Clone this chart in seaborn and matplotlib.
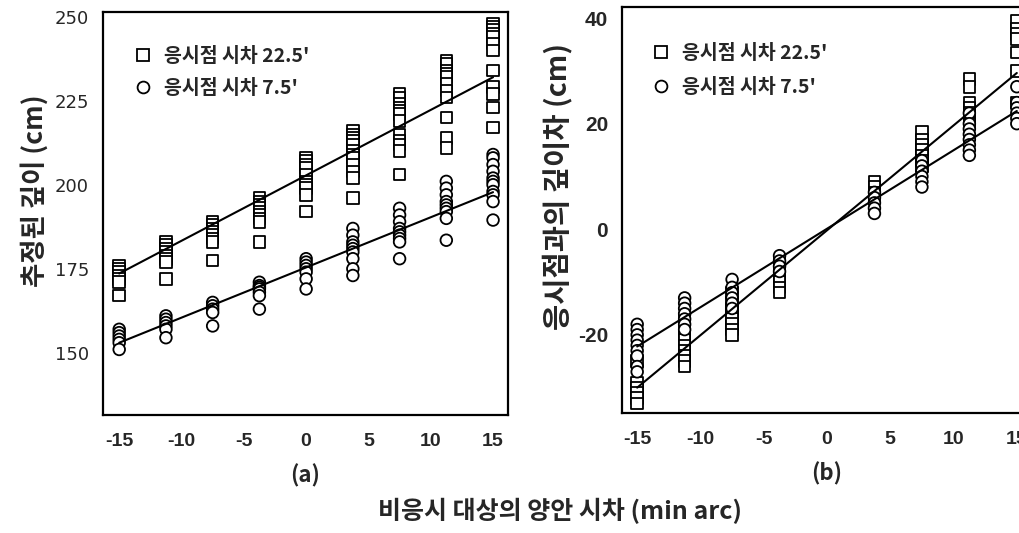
#!/usr/bin/env python3
"""Estimated depth vs. disparity of the non-fixated target (two fixation disparities)."""

import matplotlib
matplotlib.use("Agg")
import matplotlib.pyplot as plt
import pandas as pd
import seaborn as sns

KR = ["Noto Sans CJK KR", "DejaVu Sans"]
NARROW = ["Liberation Sans Narrow", "Liberation Sans", "DejaVu Sans"]

SERIES = ["응시점 시차 22.5'", "응시점 시차 7.5'"]
X_A = [-15, -11.25, -7.5, -3.75, 0, 3.75, 7.5, 11.25, 15]
X_B = [-15, -11.25, -7.5, -3.75, 3.75, 7.5, 11.25, 15]

# (a) estimated depth, one list per x level
A_SQ = [
    [176, 175, 174, 173, 172, 171, 167],
    [183, 182, 181, 180, 179, 178, 177, 172],
    [189, 188, 187, 186, 185, 184, 183, 177.5],
    [196, 195, 194, 193, 192, 191, 190, 189, 183],
    [208, 207, 206, 205, 203, 201, 200, 199, 197, 192],
    [216, 215, 214, 213, 212, 210, 209, 208, 206, 204, 202, 196],
    [227, 226, 224, 223, 222, 221, 219, 215, 213, 212, 210, 203],
    [237, 236, 234, 233, 232, 230, 228, 226, 220, 214, 211],
    [248, 247, 246, 245, 244, 242, 240, 234, 229, 227, 223, 217],
]
A_CI = [
    [157, 156, 155, 154, 153, 151],
    [161, 160, 159, 158, 157, 154.5],
    [165, 164, 163, 162, 158],
    [171, 170, 169.5, 169, 168, 167, 163],
    [178, 177, 176, 175, 174, 172, 169],
    [187, 185, 183, 182, 181, 180, 178, 175, 173],
    [193, 191, 189, 187, 186, 185, 184, 183, 178],
    [201, 199, 197, 195, 194, 193, 192, 190, 183.5],
    [209, 208, 206, 204, 202, 201, 200, 198, 197, 195, 189.5],
]

# (b) depth difference from the fixation point
B_SQ = [
    [-25, -29, -30, -31, -32, -33],
    [-17, -19, -20, -21, -22, -23, -24, -25, -26],
    [-12, -14, -15, -16, -17, -18, -19, -20],
    [-6, -7, -8, -9, -10, -11, -12],
    [9, 8, 7, 6],
    [18.5, 17, 16, 15, 14, 13, 12],
    [28.5, 27, 24, 23, 22, 21, 20],
    [39.5, 38, 37, 36, 33.5, 30, 24],
]
B_CI = [
    [-18, -19, -20, -21, -22, -23, -24, -26, -27],
    [-13, -14, -15, -16, -17, -18, -19],
    [-9.5, -11, -12, -13, -14, -15],
    [-5, -6, -7, -8],
    [7, 6, 5, 4, 3],
    [13, 12, 11, 10, 9, 8],
    [22, 20, 19, 18, 17, 16, 15, 14],
    [27, 24, 23, 22, 21, 20],
]

# fitted lines read at x = -15 and x = 15
FIT_X = [-15, 15]
A_FIT_SQ = [173.6, 232.0]
A_FIT_CI = [153.0, 197.8]
B_FIT_SQ = [-30.0, 29.6]
B_FIT_CI = [-22.2, 22.4]

A_YTICKS = [150, 175, 200, 225, 250]
B_YTICKS = [-20, 0, 20, 40]
X_TICKS = [-15, -10, -5, 0, 5, 10, 15]


def to_frame(xs, sq, ci):
    rows = []
    for name, cols in zip(SERIES, [sq, ci]):
        for x, vals in zip(xs, cols):
            rows += [{"x": x, "y": v, "series": name} for v in vals]
    return pd.DataFrame(rows)


def fit_frame(fit_sq, fit_ci):
    return pd.DataFrame({
        "x": FIT_X * 2,
        "y": fit_sq + fit_ci,
        "series": [SERIES[0]] * 2 + [SERIES[1]] * 2,
    })


def draw_panel(ax, df, fits, ylabel, letter, yticks, ylim, xlim, label_size, label_y,
               ytick_style, leg_anchor, leg_space):
    markers = {SERIES[0]: "s", SERIES[1]: "o"}
    sns.scatterplot(
        data=df, x="x", y="y", style="series", style_order=SERIES, markers=markers,
        s=70, facecolor="white", edgecolor="black", linewidth=1.3, ax=ax, legend=False, zorder=3,
    )
    sns.lineplot(data=fits, x="x", y="y", units="series", estimator=None, color="black",
                 lw=1.5, ax=ax, zorder=4, legend=False)
    ax.set_xlim(*xlim)
    ax.set_ylim(*ylim)
    ax.set_xticks(X_TICKS)
    ax.set_yticks(yticks)
    ax.set_xticklabels([str(t) for t in X_TICKS], fontfamily=NARROW, fontweight="bold", fontsize=14)
    ax.set_yticklabels([str(t) for t in yticks], **ytick_style)
    ax.set_xlabel(letter, fontfamily=KR, fontweight="bold", fontsize=16, labelpad=10)
    ax.set_ylabel(ylabel, fontfamily=KR, fontweight="bold", fontsize=label_size, labelpad=4)
    ax.yaxis.label.set_y(label_y)
    ax.grid(False)
    for side in ["left", "bottom", "top", "right"]:
        ax.spines[side].set_visible(True)
        ax.spines[side].set_color("black")
        ax.spines[side].set_linewidth(1.6)
    ax.tick_params(axis="both", direction="out", length=6, width=1.5, color="black", pad=4)
    ax.tick_params(axis="x", pad=7)

    handles = [
        plt.Line2D([], [], marker=markers[n], ls="", mfc="white", mec="black", mew=1.3, ms=8.5, label=n)
        for n in SERIES
    ]
    ax.legend(handles=handles, loc="upper left", bbox_to_anchor=leg_anchor, frameon=False,
              borderaxespad=0, borderpad=0, handlelength=1.0, handletextpad=0.6,
              labelspacing=leg_space, prop={"family": KR, "weight": "bold", "size": 14})


sns.set_theme(style="white")
plt.rcParams["font.family"] = KR

fig = plt.figure(figsize=(10.2, 5.33), dpi=100)
ax_a = fig.add_axes([103 / 1020, 1 - 415 / 533, 405 / 1020, 403 / 533])
ax_b = fig.add_axes([622 / 1020, 1 - 413 / 533, 410 / 1020, 406 / 533])

draw_panel(ax_a, to_frame(X_A, A_SQ, A_CI), fit_frame(A_FIT_SQ, A_FIT_CI), "추정된 깊이 (cm)", "(a)",
           A_YTICKS, (131.5, 251.4), (-16.3, 16.2), 19, 0.556,
           {"fontfamily": "DejaVu Sans", "fontsize": 13}, (0.074, 0.913), 0.65)
draw_panel(ax_b, to_frame(X_B, B_SQ, B_CI), fit_frame(B_FIT_SQ, B_FIT_CI), "응시점과의 깊이차 (cm)", "(b)",
           B_YTICKS, (-34.8, 42.1), (-16.2, 16.2), 20.5, 0.557,
           {"fontfamily": NARROW, "fontweight": "bold", "fontsize": 15}, (0.071, 0.91), 0.78)

fig.text(560 / 1020, 1 - 511 / 533, "비응시 대상의 양안 시차 (min arc)", ha="center", va="center",
         fontfamily=KR, fontweight="bold", fontsize=18)

fig.savefig("out.png", dpi=100)
